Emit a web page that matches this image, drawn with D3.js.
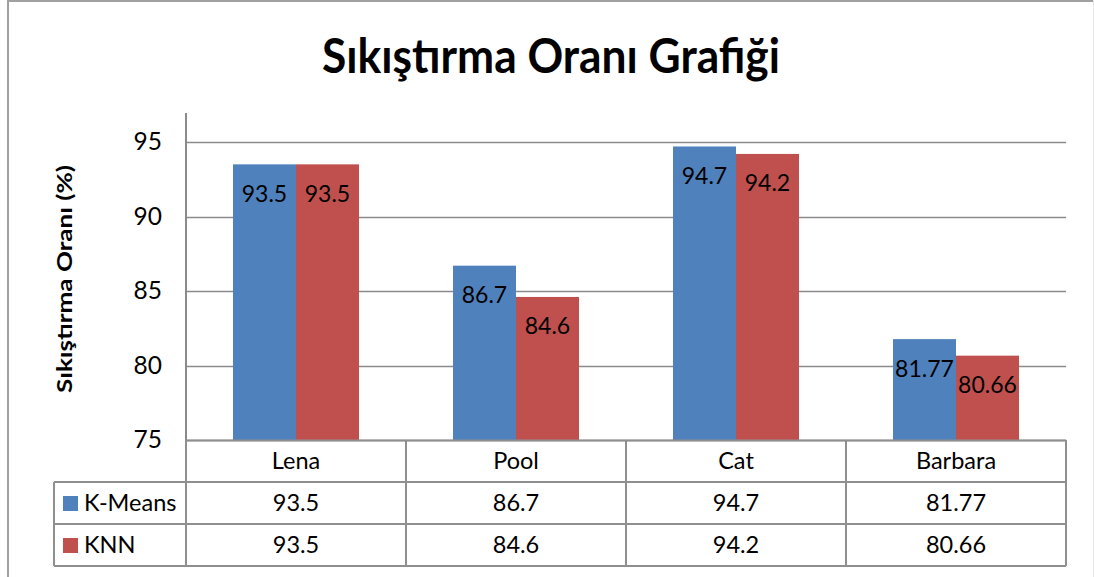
<!DOCTYPE html>
<html>
<head>
<meta charset="utf-8">
<script src="https://cdn.jsdelivr.net/npm/d3@7"></script>
<style>
  html, body { margin: 0; padding: 0; background: #fff; }
  svg { display: block; font-family: Lato, "Open Sans", sans-serif; }
</style>
</head>
<body>
<svg id="chart" width="1094" height="577"></svg>
<script>
// Compression ratio per test image, two clustering methods
const categories = ["Lena", "Pool", "Cat", "Barbara"];
const seriesNames = ["K-Means", "KNN"];
const kmeansValues = [93.5, 86.7, 94.7, 81.77];
const knnValues = [93.5, 84.6, 94.2, 80.66];
const yTicks = [75, 80, 85, 90, 95];
const seriesColors = ["#4F81BD", "#C0504D"];

const titleText = "Sıkıştırma Oranı Grafiği";
const yAxisTitle = "Sıkıştırma Oranı (%)";

const series = [kmeansValues, knnValues];

const svg = d3.select("#chart");
const W = 1094, H = 577;

const plotLeft = 186, plotRight = 1066;
const plotBottom = 440, axisTop = 113;
const rowH = 42;
const legendLeft = 54;
const textSize = 23.5;

const gridColor = "#8a8a8a";

// outer chart frame
svg.append("line").attr("x1", 8).attr("x2", 8).attr("y1", 0).attr("y2", H)
  .attr("stroke", "#a0a0a0").attr("stroke-width", 2);
svg.append("line").attr("x1", 8).attr("x2", W).attr("y1", 1).attr("y2", 1)
  .attr("stroke", "#a0a0a0").attr("stroke-width", 2);
svg.append("line").attr("x1", W - 0.5).attr("x2", W - 0.5).attr("y1", 0).attr("y2", H)
  .attr("stroke", "#e6e6e6").attr("stroke-width", 1);

// title
svg.append("text")
  .attr("x", 551).attr("y", 73)
  .attr("text-anchor", "middle")
  .attr("font-size", 48).attr("font-weight", "bold")
  .attr("textLength", 458).attr("lengthAdjust", "spacingAndGlyphs")
  .attr("fill", "#000")
  .text(titleText);

const x = d3.scaleBand().domain(categories).range([plotLeft, plotRight]);
const y = d3.scaleLinear().domain([75, 95]).range([plotBottom, 142]);

const groupW = 126;
const xInner = d3.scaleBand().domain(seriesNames).range([0, groupW]);

// horizontal gridlines
svg.append("g")
  .selectAll("line")
  .data(yTicks)
  .join("line")
  .attr("x1", plotLeft).attr("x2", plotRight)
  .attr("y1", d => Math.round(y(d)) + 0.5).attr("y2", d => Math.round(y(d)) + 0.5)
  .attr("stroke", gridColor).attr("stroke-width", 1.5);

// y axis tick labels
const yAxis = d3.axisLeft(y).tickValues(yTicks).tickSize(0).tickPadding(24);
const gy = svg.append("g").attr("transform", `translate(${plotLeft},0)`).call(yAxis);
gy.select(".domain").remove();
gy.selectAll("text")
  .attr("font-family", "Lato, 'Open Sans', sans-serif")
  .attr("font-size", 24.5).attr("fill", "#000");

// vertical axis line
svg.append("line")
  .attr("x1", plotLeft).attr("x2", plotLeft)
  .attr("y1", axisTop).attr("y2", plotBottom)
  .attr("stroke", gridColor).attr("stroke-width", 2);

// y axis title
svg.append("text")
  .attr("transform", "translate(72,279) rotate(-90)")
  .attr("text-anchor", "middle")
  .attr("font-size", 21).attr("font-weight", "bold")
  .attr("textLength", 228).attr("lengthAdjust", "spacingAndGlyphs")
  .text(yAxisTitle);

// bars
const groups = svg.append("g")
  .selectAll("g")
  .data(categories)
  .join("g")
  .attr("transform", d => `translate(${x(d) + (x.bandwidth() - groupW) / 2},0)`);

const cells = (c, i) => seriesNames.map((s, j) => ({ s, v: series[j][i], j }));

groups.selectAll("rect")
  .data(cells)
  .join("rect")
  .attr("x", d => xInner(d.s))
  .attr("width", xInner.bandwidth())
  .attr("y", d => y(d.v))
  .attr("height", d => y(75) - y(d.v))
  .attr("fill", d => seriesColors[d.j]);

// value labels inside bars
groups.selectAll("text")
  .data(cells)
  .join("text")
  .attr("x", d => xInner(d.s) + xInner.bandwidth() / 2)
  .attr("y", d => y(d.v) + 37.5)
  .attr("text-anchor", "middle")
  .attr("font-size", 23).attr("fill", "#000")
  .text(d => d.v);

// data table below the plot
const tableColor = "#8f8f8f";
const tg = svg.append("g");
const rowsY = [plotBottom, plotBottom + rowH, plotBottom + 2 * rowH, plotBottom + 3 * rowH];

// horizontal table rules
tg.append("line").attr("x1", plotLeft).attr("x2", plotRight)
  .attr("y1", rowsY[0] + 0.5).attr("y2", rowsY[0] + 0.5)
  .attr("stroke", tableColor).attr("stroke-width", 2);
[1, 2, 3].forEach(k => {
  tg.append("line").attr("x1", legendLeft).attr("x2", plotRight)
    .attr("y1", rowsY[k]).attr("y2", rowsY[k])
    .attr("stroke", tableColor).attr("stroke-width", 2);
});
// vertical table rules
const colEdges = categories.map(c => x(c)).concat([plotRight]);
colEdges.forEach(cx => {
  tg.append("line").attr("x1", cx).attr("x2", cx)
    .attr("y1", rowsY[0]).attr("y2", rowsY[3])
    .attr("stroke", tableColor).attr("stroke-width", 2);
});
tg.append("line").attr("x1", legendLeft).attr("x2", legendLeft)
  .attr("y1", rowsY[1]).attr("y2", rowsY[3])
  .attr("stroke", tableColor).attr("stroke-width", 2);

// category header row
tg.selectAll("text.cat")
  .data(categories)
  .join("text")
  .attr("class", "cat")
  .attr("x", d => x(d) + x.bandwidth() / 2)
  .attr("y", rowsY[0] + 29)
  .attr("text-anchor", "middle")
  .attr("font-size", textSize)
  .text(d => d);

// value rows with legend keys
seriesNames.forEach((name, j) => {
  const ry = rowsY[j + 1];
  tg.append("rect")
    .attr("x", 63).attr("y", ry + 14)
    .attr("width", 15).attr("height", 15)
    .attr("fill", seriesColors[j]);
  tg.append("text")
    .attr("x", 84).attr("y", ry + 29)
    .attr("font-size", textSize)
    .text(name);
  tg.selectAll(null)
    .data(categories)
    .join("text")
    .attr("x", d => x(d) + x.bandwidth() / 2)
    .attr("y", ry + 29)
    .attr("text-anchor", "middle")
    .attr("font-size", textSize)
    .text((d, i) => series[j][i]);
});
</script>
</body>
</html>
